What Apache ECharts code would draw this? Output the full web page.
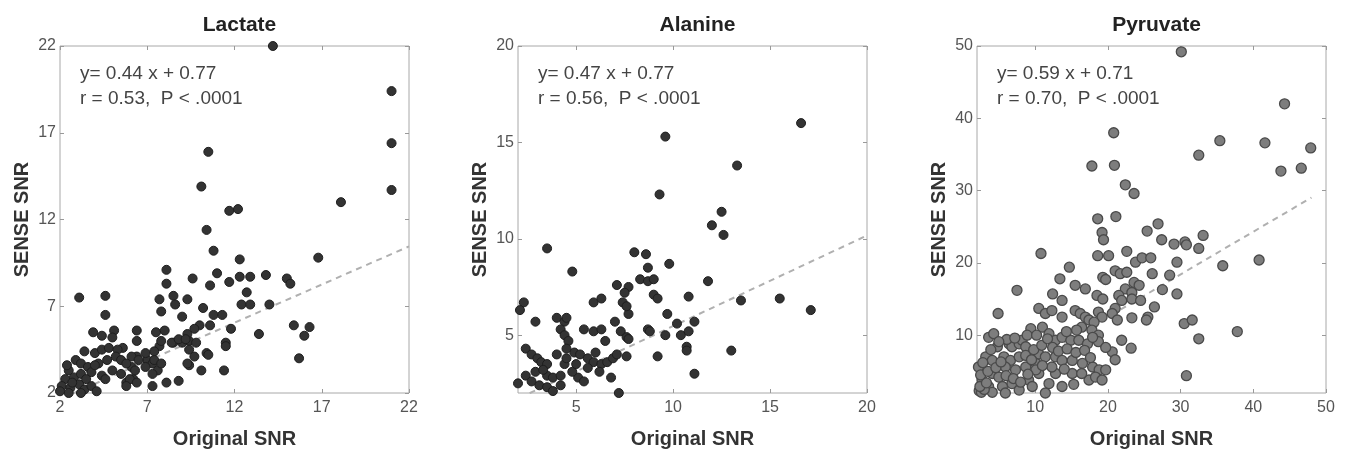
<!DOCTYPE html>
<html><head><meta charset="utf-8">
<script src="https://cdn.jsdelivr.net/npm/echarts@6/dist/echarts.min.js"></script>
<style>html,body{margin:0;padding:0;background:#fff}#c{width:1355px;height:458px}</style>
</head><body><div id="c"></div>
<script>
const panelTitles = ['Lactate', 'Alanine', 'Pyruvate'];
const xAxisName = 'Original SNR';
const yAxisName = 'SENSE SNR';
const fitSlopes = [0.44, 0.47, 0.59];
const fitIntercepts = [0.77, 0.77, 0.71];
const fitText = ['y= 0.44 x + 0.77\nr = 0.53,  P < .0001', 'y= 0.47 x + 0.77\nr = 0.56,  P < .0001', 'y= 0.59 x + 0.71\nr = 0.70,  P < .0001'];
const fitXRange = [[2.8, 22], [2.6, 20], [2.2, 48]];
const axisMin = [2, 2, 2];
const axisMax = [22, 20, 50];
const lactateTicks = [2, 7, 12, 17, 22];
const alanineTicks = [5, 10, 15, 20];
const pyruvateTicks = [10, 20, 30, 40, 50];

const lactatePoints = [
[14.2,22.0],[21.0,19.4],[21.0,16.4],[21.0,13.7],[18.1,13.0],[10.5,15.9],[10.1,13.9],[11.7,12.5],[12.2,12.6],[10.4,11.4],
[10.8,10.2],[12.3,9.7],[16.8,9.8],[8.1,9.1],[8.1,8.3],[9.6,8.6],[11.0,8.9],[10.6,8.2],[11.7,8.4],[12.3,8.7],
[12.9,8.7],[13.8,8.8],[15.0,8.6],[15.2,8.3],[12.7,7.8],[12.4,7.1],[12.9,7.1],[14.0,7.1],[3.1,7.5],[4.6,7.6],
[4.6,6.5],[7.7,7.4],[7.8,6.7],[8.5,7.6],[8.6,7.1],[9.3,7.4],[9.0,6.4],[10.2,6.9],[10.8,6.5],[11.3,6.5],
[10.0,5.9],[9.7,5.7],[10.6,5.9],[11.8,5.7],[15.4,5.9],[16.3,5.8],[16.0,5.3],[13.4,5.4],[15.7,4.0],
[3.9,5.5],[4.4,5.3],[5.1,5.6],[5.0,5.2],[6.4,5.6],[6.4,5.0],[7.5,5.5],[8.0,5.6],[8.5,4.9],[9.0,4.9],
[9.4,5.0],[9.8,4.9],[9.3,5.4],[11.5,4.9],[11.5,4.7],[10.4,4.3],[10.5,4.2],[9.4,3.6],[10.1,3.3],[11.4,3.3],
[8.1,2.6],[8.8,2.7],[7.3,2.4],[7.7,4.7],[7.0,3.9],[7.3,3.7],[7.6,3.3],[6.4,4.1],[6.1,3.5],[5.8,2.6],
[6.2,2.8],[5.6,4.6],[3.4,4.4],[4.0,4.3],[4.4,4.5],[4.8,4.6],[5.3,4.5],[2.9,3.9],[3.2,3.7],[3.6,3.5],
[4.2,3.7],[4.7,3.9],[5.2,4.1],[5.5,3.9],[6.1,4.1],[6.5,3.9],[6.9,4.3],[7.4,4.4],[7.8,5.0],[2.5,3.3],
[2.3,2.8],[2.8,2.9],[3.2,3.1],[3.8,3.2],[4.4,3.0],[4.6,2.8],[5.0,3.3],[5.5,3.1],[5.8,3.7],[6.3,3.3],
[6.9,3.5],[7.3,3.1],[7.4,3.9],[7.8,3.7],[8.4,4.9],[8.8,5.1],[9.2,5.1],[9.4,4.5],[9.7,4.1],[9.3,3.7],
[2.1,2.4],[2.6,2.3],[3.1,2.5],[3.4,2.2],[3.8,2.4],[4.1,2.1],[3.2,2.0],[2.5,2.0],[2.0,2.1],[6.0,2.8],
[5.8,2.4],[6.4,2.6],[2.7,2.6],[3.5,2.8],[4.0,3.6],[2.4,3.6]
];

const alaninePoints = [
[16.6,16.0],[9.6,15.3],[13.3,13.8],[9.3,12.3],[12.5,11.4],[12.0,10.7],[12.6,10.2],[3.5,9.5],[4.8,8.3],[8.0,9.3],
[8.6,9.2],[8.7,8.5],[9.8,8.7],[8.3,7.9],[8.7,7.8],[9.0,7.9],[11.8,7.8],[7.1,7.6],[7.7,7.5],[7.5,7.2],
[7.4,6.7],[9.0,7.1],[9.2,6.9],[10.8,7.0],[13.5,6.8],[15.5,6.9],[17.1,6.3],[5.9,6.7],[6.3,6.9],[2.3,6.7],
[2.1,6.3],[2.9,5.7],[4.0,5.9],[4.4,5.7],[4.2,5.3],[4.5,5.9],[4.4,5.0],[4.6,4.7],[5.4,5.3],[5.9,5.2],
[6.3,5.3],[6.5,4.7],[7.0,5.7],[7.3,5.2],[7.6,4.9],[7.7,4.8],[7.7,6.1],[7.6,6.5],[8.7,5.3],[8.8,5.2],
[9.7,6.1],[9.6,5.0],[10.2,5.6],[10.4,5.0],[10.8,5.2],[11.1,5.7],[10.7,4.4],[10.7,4.2],[9.2,3.9],[7.6,3.9],
[13.0,4.2],[11.1,3.0],[7.2,2.0],[2.0,2.5],[2.4,4.3],[2.7,4.0],[3.0,3.8],[3.2,3.6],[3.5,3.5],[2.4,2.9],
[2.7,2.6],[3.1,2.4],[3.5,2.3],[3.8,2.1],[2.9,3.1],[3.5,2.9],[3.8,2.8],[4.2,2.9],[4.4,3.5],[4.5,3.8],
[4.9,4.1],[5.2,4.0],[5.6,3.8],[5.9,3.6],[6.3,3.5],[6.6,3.6],[6.9,3.8],[6.8,2.8],[5.1,2.8],[4.8,3.1],
[5.6,3.3],[4.2,2.4],[4.5,4.3],[5.0,3.5],[4.0,4.0],[6.2,3.1],[3.3,3.2],[5.4,2.6],[6.0,4.1],[7.1,4.0]
];

const pyruvatePoints = [
[30.1,49.2],[44.3,42.0],[20.8,38.0],[35.4,36.9],[41.6,36.6],[47.9,35.9],[32.5,34.9],[17.8,33.4],[20.9,33.5],[43.8,32.7],
[46.6,33.1],[22.4,30.8],[23.6,29.6],[18.6,26.1],[21.1,26.4],[26.9,25.4],[25.4,24.4],[33.1,23.8],[27.4,23.2],[29.1,22.6],
[30.6,22.9],[30.8,22.5],[32.5,22.0],[19.2,24.2],[19.4,23.2],[10.8,21.3],[18.6,21.0],[20.1,21.0],[22.6,21.6],[23.8,20.1],
[24.7,20.7],[25.9,20.7],[29.5,20.1],[35.8,19.6],[40.8,20.4],[14.7,19.4],[21.0,18.9],[21.7,18.5],[22.6,18.7],[26.1,18.5],
[28.5,18.3],[19.3,18.0],[13.4,17.8],[15.5,16.9],[16.9,16.4],[7.5,16.2],[23.6,17.3],[22.4,16.4],[23.3,15.9],[24.3,16.9],
[27.5,16.3],[29.5,15.7],[12.4,15.7],[13.7,14.8],[21.5,15.5],[21.9,14.8],[23.3,15.0],[24.5,14.8],[18.5,15.5],[19.3,15.0],
[21.0,13.7],[20.6,13.0],[21.3,12.1],[18.7,13.2],[19.2,12.5],[26.4,13.9],[25.5,12.5],[25.3,12.1],[23.3,12.4],[30.5,11.6],
[31.6,12.1],[37.8,10.5],[32.5,9.5],[21.9,9.3],[23.2,8.2],[20.6,7.7],[21.0,6.6],[30.8,4.4],[15.3,3.2],[4.9,13.0],
[10.5,13.7],[11.4,13.0],[12.3,13.4],[13.7,12.5],[15.5,13.4],[16.2,13.0],[16.9,12.5],[17.4,12.1],[18.1,11.8],[16.4,11.1],
[17.8,10.7],[18.7,10.0],[18.7,9.1],[19.7,17.7],[9.4,10.9],[11.0,11.1],[11.9,10.2],[12.8,9.3],[13.7,9.7],[14.9,9.3],
[16.0,9.3],[17.2,8.8],[17.9,9.7],[19.7,8.3],[3.6,9.7],[4.3,10.2],[4.8,8.4],[3.2,7.0],[2.2,5.6],[4.1,6.5],
[5.7,7.0],[6.4,8.8],[6.8,8.4],[7.8,8.8],[8.2,9.3],[8.7,8.4],[6.6,6.5],[7.8,7.0],[5.9,5.6],[4.1,4.7],
[2.7,3.8],[5.0,4.2],[7.3,5.2],[8.7,5.6],[10.1,6.1],[10.5,7.4],[11.4,7.0],[12.8,7.0],[13.7,6.5],[15.1,6.5],
[16.5,6.1],[17.9,5.6],[18.8,5.2],[15.1,4.7],[12.8,4.7],[10.5,4.7],[9.1,3.8],[6.8,3.3],[5.5,2.9],[3.6,2.9],
[2.7,2.4],[4.1,2.1],[5.9,2.0],[7.8,2.4],[9.6,2.9],[11.9,3.3],[13.7,2.9],[17.4,3.8],[18.3,4.2],[19.7,5.2],
[19.2,3.8],[11.4,2.0],[10.1,5.2],[12.3,5.6],[8.7,7.2],[2.3,2.3],[2.6,2.1],[3.0,2.5],[2.4,2.9],[3.3,3.4],
[2.5,4.5],[3.5,5.0],[4.6,5.5],[5.3,6.3],[6.0,4.4],[7.0,4.0],[8.0,3.5],[9.0,4.6],[9.8,8.0],[10.9,8.6],
[11.7,9.5],[12.4,8.3],[13.2,7.8],[14.4,8.1],[15.6,7.6],[16.8,7.9],[17.6,6.9],[6.1,9.4],[5.0,9.1],[7.2,9.6],
[8.9,10.0],[10.2,10.0],[14.3,10.5],[15.7,10.7],[9.5,6.6],[11.0,5.8],[14.0,5.3],[16.4,4.7],[3.9,8.0],[2.8,6.2]
];

const allPoints = [lactatePoints, alaninePoints, pyruvatePoints];
const xTicks = [lactateTicks, alanineTicks, pyruvateTicks];
const yTicks = [lactateTicks, alanineTicks, pyruvateTicks];
const gridLefts = [60, 518, 977];
const gridWidth = 349, gridTop = 46, gridHeight = 347;
const FONT = '"Liberation Sans", Arial, Helvetica, sans-serif';

const chart = echarts.init(document.getElementById('c'), null, {renderer: 'canvas'});

const grids = [], xAxes = [], yAxes = [], series = [], titles = [], graphics = [];
for (let i = 0; i < 3; i++) {
  grids.push({left: gridLefts[i], top: gridTop, width: gridWidth, height: gridHeight, show: true, borderColor: '#a8a8a8', borderWidth: 1, backgroundColor: 'transparent'});
  const mk = (pos, isX) => {
    const ticks = isX ? xTicks[i] : yTicks[i];
    const main = isX ? pos === 'bottom' : pos === 'left';
    return {
      type: 'value', gridIndex: i, min: axisMin[i], max: axisMax[i], position: pos,
      axisLine: {show: false}, splitLine: {show: false},
      axisTick: {show: true, inside: true, length: 4, lineStyle: {color: '#999'}, customValues: ticks},
      axisLabel: {show: main, customValues: ticks, color: '#555', fontSize: 16, fontFamily: FONT, margin: isX ? 7 : 4},
      name: main ? (isX ? xAxisName : yAxisName) : '',
      nameLocation: 'middle', nameGap: isX ? 36 : 28,
      nameTextStyle: {fontSize: 20, fontWeight: 'bold', color: '#333', fontFamily: FONT}
    };
  };
  xAxes.push(mk('bottom', true)); xAxes.push(mk('top', true));
  yAxes.push(mk('left', false)); yAxes.push(mk('right', false));
  const x0 = fitXRange[i][0], x1 = fitXRange[i][1];
  series.push({
    type: 'line', xAxisIndex: i * 2, yAxisIndex: i * 2, z: 1, silent: true, showSymbol: false, symbol: 'none',
    lineStyle: {color: '#b0b0b0', width: 2, type: [6, 5]},
    data: [[x0, fitSlopes[i] * x0 + fitIntercepts[i]], [x1, fitSlopes[i] * x1 + fitIntercepts[i]]]
  });
  const pyr = i === 2;
  series.push({
    type: 'scatter', xAxisIndex: i * 2, yAxisIndex: i * 2, z: 2, symbolSize: pyr ? 10 : 9,
    itemStyle: pyr ? {color: '#7d7d7d', borderColor: '#4a4a4a', borderWidth: 1.3, opacity: 1}
                   : {color: '#333', borderColor: '#1e1e1e', borderWidth: 1, opacity: 1},
    data: allPoints[i]
  });
  titles.push({text: panelTitles[i], left: gridLefts[i] + gridWidth / 2, top: 10, textAlign: 'center',
    textStyle: {fontSize: 21, fontWeight: 'bold', color: '#222', fontFamily: FONT}});
  graphics.push({type: 'text', left: gridLefts[i] + 20, top: 61,
    style: {text: fitText[i], font: '19px ' + FONT, fill: '#444', lineHeight: 25}});
}

chart.setOption({
  animation: false,
  backgroundColor: '#fff',
  title: titles,
  grid: grids,
  xAxis: xAxes,
  yAxis: yAxes,
  series: series,
  graphic: graphics
});
</script></body></html>
